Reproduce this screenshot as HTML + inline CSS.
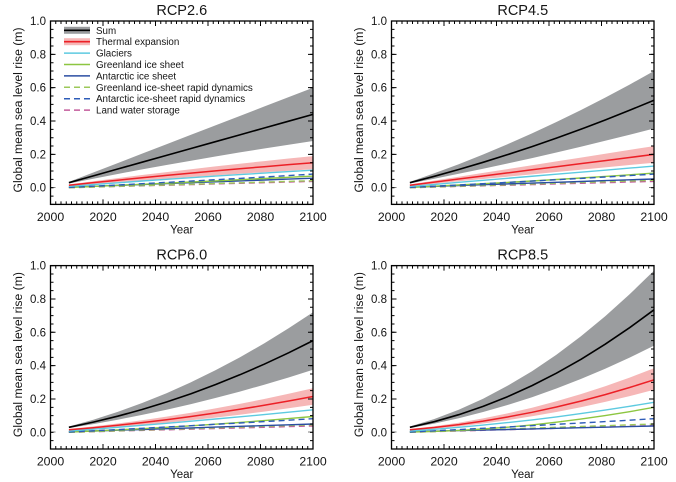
<!DOCTYPE html>
<html><head><meta charset="utf-8"><style>
html,body{margin:0;padding:0;background:#fff;}
svg{display:block;}
text{font-family:"Liberation Sans",Arial,sans-serif;fill:#151515;}
.t{font-size:14.5px;text-anchor:middle;}
.yl{font-size:11.5px;text-anchor:end;}
.xl{font-size:12.3px;text-anchor:middle;}
.ax{font-size:11.5px;text-anchor:middle;}
.lg{font-size:9.8px;}
.ln{fill:none;stroke-linejoin:round;}
</style></head><body>
<svg width="676" height="482" viewBox="0 0 676 482" xmlns="http://www.w3.org/2000/svg">
<defs>
<g id="frame">
<rect x="50.5" y="21" width="262.5" height="183.4" fill="none" stroke="#000" stroke-width="1.3"/>
<line x1="50.5" y1="202.9" x2="313.5" y2="202.9" stroke="#000" stroke-width="3" stroke-dasharray="1 4.25" stroke-dashoffset="0.5"/>
<line x1="50.5" y1="201.9" x2="313.5" y2="201.9" stroke="#000" stroke-width="5" stroke-dasharray="1 51.5" stroke-dashoffset="0.5"/>
<line x1="50.5" y1="22.5" x2="313.5" y2="22.5" stroke="#000" stroke-width="3" stroke-dasharray="1 4.25" stroke-dashoffset="0.5"/>
<line x1="50.5" y1="23.5" x2="313.5" y2="23.5" stroke="#000" stroke-width="5" stroke-dasharray="1 51.5" stroke-dashoffset="0.5"/>
<line x1="52" y1="204.4" x2="52" y2="20.5" stroke="#000" stroke-width="3" stroke-dasharray="1 7.335" stroke-dashoffset="0.5"/>
<line x1="53" y1="187.7" x2="53" y2="20.5" stroke="#000" stroke-width="5" stroke-dasharray="1 32.34" stroke-dashoffset="0.5"/>
<line x1="311.5" y1="204.4" x2="311.5" y2="20.5" stroke="#000" stroke-width="3" stroke-dasharray="1 7.335" stroke-dashoffset="0.5"/>
<line x1="310.5" y1="187.7" x2="310.5" y2="20.5" stroke="#000" stroke-width="5" stroke-dasharray="1 32.34" stroke-dashoffset="0.5"/>
</g>
</defs>

<!-- ================= PANEL 1 RCP2.6 ================= -->
<g>
<polygon fill="#9b9d9f" points="68.9,181.9 93.3,172.5 117.7,163.1 142.1,153.6 166.5,144.2 191.0,134.8 215.4,125.4 239.8,116.0 264.2,106.5 288.6,97.1 313.0,87.7 313.0,141.0 288.6,144.7 264.2,148.5 239.8,152.4 215.4,156.5 191.0,160.7 166.5,165.0 142.1,169.4 117.7,174.0 93.3,178.7 68.9,183.5"/>
<polygon fill="#f6b7b7" points="68.9,184.4 93.3,181.2 117.7,178.1 142.1,175.0 166.5,172.1 191.0,169.2 215.4,166.4 239.8,163.7 264.2,161.1 288.6,158.5 313.0,156.1 313.0,169.3 288.6,170.7 264.2,172.2 239.8,173.8 215.4,175.4 191.0,177.0 166.5,178.7 142.1,180.5 117.7,182.3 93.3,184.1 68.9,186.0"/>
<polyline class="ln" stroke="#c45c9c" stroke-width="1.4" stroke-dasharray="6 4" points="68.9,187.7 93.3,187.1 117.7,186.4 142.1,185.8 166.5,185.2 191.0,184.6 215.4,183.9 239.8,183.3 264.2,182.7 288.6,182.0 313.0,181.4"/>
<polyline class="ln" stroke="#9cc85a" stroke-width="1.4" stroke-dasharray="6 4" points="68.9,187.7 93.3,187.0 117.7,186.3 142.1,185.6 166.5,184.9 191.0,184.2 215.4,183.5 239.8,182.8 264.2,182.1 288.6,181.4 313.0,180.7"/>
<polyline class="ln" stroke="#2b4ea2" stroke-width="1.4" points="68.9,187.2 93.3,186.3 117.7,185.4 142.1,184.5 166.5,183.6 191.0,182.7 215.4,181.8 239.8,180.9 264.2,180.0 288.6,179.1 313.0,178.2"/>
<polyline class="ln" stroke="#8dc641" stroke-width="1.4" points="68.9,187.4 93.3,186.4 117.7,185.3 142.1,184.3 166.5,183.2 191.0,182.0 215.4,180.9 239.8,179.7 264.2,178.5 288.6,177.3 313.0,176.1"/>
<polyline class="ln" stroke="#2e5cb8" stroke-width="1.4" stroke-dasharray="6 4" points="68.9,187.4 93.3,186.2 117.7,185.0 142.1,183.7 166.5,182.4 191.0,181.1 215.4,179.7 239.8,178.4 264.2,177.0 288.6,175.6 313.0,174.1"/>
<polyline class="ln" stroke="#5dcae0" stroke-width="1.4" points="68.9,186.4 93.3,184.6 117.7,182.8 142.1,181.0 166.5,179.3 191.0,177.7 215.4,176.1 239.8,174.6 264.2,173.1 288.6,171.6 313.0,170.2"/>
<polyline class="ln" stroke="#ec2027" stroke-width="1.5" points="68.9,185.2 93.3,182.6 117.7,180.2 142.1,177.7 166.5,175.4 191.0,173.1 215.4,170.9 239.8,168.7 264.2,166.7 288.6,164.6 313.0,162.7"/>
<polyline class="ln" stroke="#000" stroke-width="1.6" points="68.9,182.7 93.3,175.9 117.7,169.0 142.1,162.2 166.5,155.4 191.0,148.5 215.4,141.7 239.8,134.9 264.2,128.0 288.6,121.2 313.0,114.4"/>
<use href="#frame"/>
<rect x="64" y="26.8" width="26" height="7" fill="#9b9d9f"/>
<line x1="64" y1="30.3" x2="90" y2="30.3" stroke="#000" stroke-width="1.7"/>
<rect x="64" y="38.2" width="26" height="7" fill="#f6b7b7"/>
<line x1="64" y1="41.7" x2="90" y2="41.7" stroke="#ec2027" stroke-width="1.7"/>
<line x1="64" y1="53.1" x2="90" y2="53.1" stroke="#5dcae0" stroke-width="1.5"/>
<line x1="64" y1="64.5" x2="90" y2="64.5" stroke="#8dc641" stroke-width="1.5"/>
<line x1="64" y1="75.9" x2="90" y2="75.9" stroke="#2b4ea2" stroke-width="1.5"/>
<line x1="64" y1="87.3" x2="90" y2="87.3" stroke="#9cc85a" stroke-width="1.5" stroke-dasharray="6 4"/>
<line x1="64" y1="98.7" x2="90" y2="98.7" stroke="#2e5cb8" stroke-width="1.5" stroke-dasharray="6 4"/>
<line x1="64" y1="110.1" x2="90" y2="110.1" stroke="#c45c9c" stroke-width="1.5" stroke-dasharray="6 4"/>
<text class="lg" x="96" y="33.8">Sum</text>
<text class="lg" x="96" y="45.2">Thermal expansion</text>
<text class="lg" x="96" y="56.6">Glaciers</text>
<text class="lg" x="96" y="68.0">Greenland ice sheet</text>
<text class="lg" x="96" y="79.4">Antarctic ice sheet</text>
<text class="lg" x="96" y="90.8">Greenland ice-sheet rapid dynamics</text>
<text class="lg" x="96" y="102.2">Antarctic ice-sheet rapid dynamics</text>
<text class="lg" x="96" y="113.6">Land water storage</text>
<text class="t" x="181.75" y="15">RCP2.6</text>
<text class="yl" x="46" y="25">1.0</text>
<text class="yl" x="46" y="58.3">0.8</text>
<text class="yl" x="46" y="91.7">0.6</text>
<text class="yl" x="46" y="125">0.4</text>
<text class="yl" x="46" y="158.4">0.2</text>
<text class="yl" x="46" y="191.7">0.0</text>
<text class="xl" x="50.5" y="221">2000</text>
<text class="xl" x="103" y="221">2020</text>
<text class="xl" x="155.5" y="221">2040</text>
<text class="xl" x="208" y="221">2060</text>
<text class="xl" x="260.5" y="221">2080</text>
<text class="xl" x="313" y="221">2100</text>
<text class="ax" x="181.75" y="233.5">Year</text>
<text class="ax" transform="translate(22,110) rotate(-90)" textLength="165" lengthAdjust="spacingAndGlyphs">Global mean sea level rise (m)</text>
</g>

<!-- ================= PANEL 2 RCP4.5 ================= -->
<g transform="translate(341,0)">
<polygon fill="#9b9d9f" points="68.9,181.9 93.3,173.3 117.7,164.2 142.1,154.5 166.5,144.2 191.0,133.4 215.4,122.0 239.8,110.1 264.2,97.6 288.6,84.6 313.0,71.0 313.0,128.5 288.6,134.7 264.2,140.8 239.8,146.7 215.4,152.5 191.0,158.1 166.5,163.5 142.1,168.7 117.7,173.8 93.3,178.7 68.9,183.5"/>
<polygon fill="#f6b7b7" points="68.9,184.4 93.3,180.6 117.7,176.7 142.1,172.9 166.5,169.1 191.0,165.25 215.4,161.4 239.8,157.6 264.2,153.8 288.6,149.9 313.0,146.1 313.0,162.7 288.6,165.0 264.2,167.4 239.8,169.7 215.4,172.0 191.0,174.35 166.5,176.7 142.1,179.0 117.7,181.3 93.3,183.7 68.9,186.0"/>
<polyline class="ln" stroke="#c45c9c" stroke-width="1.4" stroke-dasharray="6 4" points="68.9,187.7 93.3,187.1 117.7,186.4 142.1,185.8 166.5,185.2 191.0,184.6 215.4,183.9 239.8,183.3 264.2,182.7 288.6,182.0 313.0,181.4"/>
<polyline class="ln" stroke="#9cc85a" stroke-width="1.4" stroke-dasharray="6 4" points="68.9,187.7 93.3,186.95 117.7,186.2 142.1,185.45 166.5,184.7 191.0,183.95 215.4,183.2 239.8,182.45 264.2,181.7 288.6,180.95 313.0,180.2"/>
<polyline class="ln" stroke="#2b4ea2" stroke-width="1.4" points="68.9,187.2 93.3,186.4 117.7,185.6 142.1,184.7 166.5,183.9 191.0,183.1 215.4,182.3 239.8,181.5 264.2,180.6 288.6,179.8 313.0,179.0"/>
<polyline class="ln" stroke="#8dc641" stroke-width="1.4" points="68.9,187.4 93.3,186.2 117.7,185.0 142.1,183.7 166.5,182.4 191.0,181.0 215.4,179.5 239.8,178.0 264.2,176.4 288.6,174.8 313.0,173.1"/>
<polyline class="ln" stroke="#2e5cb8" stroke-width="1.4" stroke-dasharray="6 4" points="68.9,187.4 93.3,186.2 117.7,185.0 142.1,183.7 166.5,182.4 191.0,181.1 215.4,179.7 239.8,178.4 264.2,177.0 288.6,175.6 313.0,174.1"/>
<polyline class="ln" stroke="#5dcae0" stroke-width="1.4" points="68.9,186.4 93.3,184.4 117.7,182.3 142.1,180.3 166.5,178.3 191.0,176.25 215.4,174.2 239.8,172.2 264.2,170.2 288.6,168.1 313.0,166.1"/>
<polyline class="ln" stroke="#ec2027" stroke-width="1.5" points="68.9,185.2 93.3,182.1 117.7,179.0 142.1,176.0 166.5,172.9 191.0,169.8 215.4,166.7 239.8,163.6 264.2,160.6 288.6,157.5 313.0,154.4"/>
<polyline class="ln" stroke="#000" stroke-width="1.6" points="68.9,182.7 93.3,176.3 117.7,169.5 142.1,162.3 166.5,154.65 191.0,146.6 215.4,138.15 239.8,129.3 264.2,120.0 288.6,110.3 313.0,100.2"/>
<use href="#frame"/>
<text class="t" x="181.75" y="15">RCP4.5</text>
<text class="yl" x="46" y="25">1.0</text>
<text class="yl" x="46" y="58.3">0.8</text>
<text class="yl" x="46" y="91.7">0.6</text>
<text class="yl" x="46" y="125">0.4</text>
<text class="yl" x="46" y="158.4">0.2</text>
<text class="yl" x="46" y="191.7">0.0</text>
<text class="xl" x="50.5" y="221">2000</text>
<text class="xl" x="103" y="221">2020</text>
<text class="xl" x="155.5" y="221">2040</text>
<text class="xl" x="208" y="221">2060</text>
<text class="xl" x="260.5" y="221">2080</text>
<text class="xl" x="313" y="221">2100</text>
<text class="ax" x="181.75" y="233.5">Year</text>
<text class="ax" transform="translate(22,110) rotate(-90)" textLength="165" lengthAdjust="spacingAndGlyphs">Global mean sea level rise (m)</text>
</g>

<!-- ================= PANEL 3 RCP6.0 ================= -->
<g transform="translate(0,244.6)">
<polygon fill="#9b9d9f" points="68.9,181.9 93.3,175.1 117.7,167.3 142.1,158.4 166.5,148.6 191.0,137.6 215.4,125.7 239.8,112.8 264.2,98.8 288.6,83.7 313.0,67.7 313.0,125.2 288.6,132.9 264.2,140.1 239.8,147.0 215.4,153.4 191.0,159.5 166.5,165.1 142.1,170.3 117.7,175.1 93.3,179.5 68.9,183.5"/>
<polygon fill="#f6b7b7" points="68.9,184.4 93.3,181.8 117.7,178.85 142.1,175.6 166.5,172.0 191.0,168.1 215.4,163.8 239.8,159.3 264.2,154.4 288.6,149.1 313.0,143.6 313.0,160.2 288.6,163.7 264.2,167.0 239.8,170.1 215.4,173.0 191.0,175.7 166.5,178.2 142.1,180.4 117.7,182.5 93.3,184.35 68.9,186.0"/>
<polyline class="ln" stroke="#c45c9c" stroke-width="1.4" stroke-dasharray="6 4" points="68.9,187.7 93.3,187.1 117.7,186.4 142.1,185.8 166.5,185.2 191.0,184.6 215.4,183.9 239.8,183.3 264.2,182.7 288.6,182.0 313.0,181.4"/>
<polyline class="ln" stroke="#9cc85a" stroke-width="1.4" stroke-dasharray="6 4" points="68.9,187.7 93.3,186.95 117.7,186.2 142.1,185.45 166.5,184.7 191.0,183.95 215.4,183.2 239.8,182.45 264.2,181.7 288.6,180.95 313.0,180.2"/>
<polyline class="ln" stroke="#2b4ea2" stroke-width="1.4" points="68.9,187.2 93.3,186.4 117.7,185.6 142.1,184.9 166.5,184.1 191.0,183.3 215.4,182.5 239.8,181.7 264.2,181.0 288.6,180.2 313.0,179.4"/>
<polyline class="ln" stroke="#8dc641" stroke-width="1.4" points="68.9,187.4 93.3,186.4 117.7,185.3 142.1,184.05 166.5,182.7 191.0,181.2 215.4,179.6 239.8,177.85 264.2,176.0 288.6,174.0 313.0,171.9"/>
<polyline class="ln" stroke="#2e5cb8" stroke-width="1.4" stroke-dasharray="6 4" points="68.9,187.4 93.3,186.2 117.7,185.0 142.1,183.7 166.5,182.4 191.0,181.1 215.4,179.7 239.8,178.4 264.2,177.0 288.6,175.6 313.0,174.1"/>
<polyline class="ln" stroke="#5dcae0" stroke-width="1.4" points="68.9,186.4 93.3,184.6 117.7,182.7 142.1,180.7 166.5,178.7 191.0,176.6 215.4,174.4 239.8,172.2 264.2,170.0 288.6,167.6 313.0,165.2"/>
<polyline class="ln" stroke="#ec2027" stroke-width="1.5" points="68.9,185.2 93.3,183.1 117.7,180.7 142.1,178.0 166.5,175.1 191.0,171.9 215.4,168.4 239.8,164.7 264.2,160.7 288.6,156.4 313.0,151.9"/>
<polyline class="ln" stroke="#000" stroke-width="1.6" points="68.9,182.7 93.3,177.5 117.7,171.6 142.1,164.9 166.5,157.4 191.0,149.1 215.4,140.0 239.8,130.2 264.2,119.6 288.6,108.2 313.0,96.0"/>
<use href="#frame"/>
<text class="t" x="181.75" y="15">RCP6.0</text>
<text class="yl" x="46" y="25">1.0</text>
<text class="yl" x="46" y="58.3">0.8</text>
<text class="yl" x="46" y="91.7">0.6</text>
<text class="yl" x="46" y="125">0.4</text>
<text class="yl" x="46" y="158.4">0.2</text>
<text class="yl" x="46" y="191.7">0.0</text>
<text class="xl" x="50.5" y="221">2000</text>
<text class="xl" x="103" y="221">2020</text>
<text class="xl" x="155.5" y="221">2040</text>
<text class="xl" x="208" y="221">2060</text>
<text class="xl" x="260.5" y="221">2080</text>
<text class="xl" x="313" y="221">2100</text>
<text class="ax" x="181.75" y="233.5">Year</text>
<text class="ax" transform="translate(22,110) rotate(-90)" textLength="165" lengthAdjust="spacingAndGlyphs">Global mean sea level rise (m)</text>
</g>

<!-- ================= PANEL 4 RCP8.5 ================= -->
<g transform="translate(341,244.6)">
<polygon fill="#9b9d9f" points="68.9,181.9 93.3,174.45 117.7,165.2 142.1,154.1 166.5,141.2 191.0,126.6 215.4,110.1 239.8,91.8 264.2,71.6 288.6,49.7 313.0,26.0 313.0,101.0 288.6,113.0 264.2,124.1 239.8,134.4 215.4,143.9 191.0,152.6 166.5,160.4 142.1,167.4 117.7,173.6 93.3,179.0 68.9,183.5"/>
<polygon fill="#f6b7b7" points="68.9,184.4 93.3,181.6 117.7,178.1 142.1,173.8 166.5,168.8 191.0,163.1 215.4,156.7 239.8,149.5 264.2,141.6 288.6,133.0 313.0,123.6 313.0,145.2 288.6,151.5 264.2,157.3 239.8,162.6 215.4,167.4 191.0,171.7 166.5,175.6 142.1,178.9 117.7,181.8 93.3,184.1 68.9,186.0"/>
<polyline class="ln" stroke="#c45c9c" stroke-width="1.4" stroke-dasharray="6 4" points="68.9,187.7 93.3,187.0 117.7,186.4 142.1,185.7 166.5,185.0 191.0,184.4 215.4,183.7 239.8,183.0 264.2,182.4 288.6,181.7 313.0,181.0"/>
<polyline class="ln" stroke="#9cc85a" stroke-width="1.4" stroke-dasharray="6 4" points="68.9,187.7 93.3,186.9 117.7,186.0 142.1,185.2 166.5,184.4 191.0,183.55 215.4,182.7 239.8,181.9 264.2,181.1 288.6,180.2 313.0,179.4"/>
<polyline class="ln" stroke="#2b4ea2" stroke-width="1.4" points="68.9,187.2 93.3,186.6 117.7,186.0 142.1,185.5 166.5,184.9 191.0,184.3 215.4,183.7 239.8,183.1 264.2,182.6 288.6,182.0 313.0,181.4"/>
<polyline class="ln" stroke="#8dc641" stroke-width="1.4" points="68.9,187.4 93.3,186.8 117.7,185.8 142.1,184.4 166.5,182.6 191.0,180.3 215.4,177.6 239.8,174.5 264.2,171.0 288.6,167.1 313.0,162.7"/>
<polyline class="ln" stroke="#2e5cb8" stroke-width="1.4" stroke-dasharray="6 4" points="68.9,187.4 93.3,186.2 117.7,185.0 142.1,183.7 166.5,182.4 191.0,181.1 215.4,179.7 239.8,178.4 264.2,177.0 288.6,175.6 313.0,174.1"/>
<polyline class="ln" stroke="#5dcae0" stroke-width="1.4" points="68.9,186.4 93.3,184.7 117.7,182.7 142.1,180.5 166.5,178.0 191.0,175.3 215.4,172.3 239.8,169.0 264.2,165.5 288.6,161.7 313.0,157.7"/>
<polyline class="ln" stroke="#ec2027" stroke-width="1.5" points="68.9,185.2 93.3,182.9 117.7,180.0 142.1,176.5 166.5,172.4 191.0,167.7 215.4,162.4 239.8,156.5 264.2,150.0 288.6,142.9 313.0,135.2"/>
<polyline class="ln" stroke="#000" stroke-width="1.6" points="68.9,182.7 93.3,177.1 117.7,170.1 142.1,161.8 166.5,152.1 191.0,141.0 215.4,128.6 239.8,114.8 264.2,99.6 288.6,83.1 313.0,65.2"/>
<use href="#frame"/>
<text class="t" x="181.75" y="15">RCP8.5</text>
<text class="yl" x="46" y="25">1.0</text>
<text class="yl" x="46" y="58.3">0.8</text>
<text class="yl" x="46" y="91.7">0.6</text>
<text class="yl" x="46" y="125">0.4</text>
<text class="yl" x="46" y="158.4">0.2</text>
<text class="yl" x="46" y="191.7">0.0</text>
<text class="xl" x="50.5" y="221">2000</text>
<text class="xl" x="103" y="221">2020</text>
<text class="xl" x="155.5" y="221">2040</text>
<text class="xl" x="208" y="221">2060</text>
<text class="xl" x="260.5" y="221">2080</text>
<text class="xl" x="313" y="221">2100</text>
<text class="ax" x="181.75" y="233.5">Year</text>
<text class="ax" transform="translate(22,110) rotate(-90)" textLength="165" lengthAdjust="spacingAndGlyphs">Global mean sea level rise (m)</text>
</g>
</svg>
</body></html>
